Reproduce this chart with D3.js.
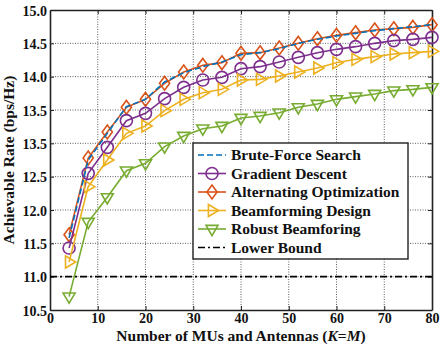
<!DOCTYPE html>
<html>
<head>
<meta charset="utf-8">
<script src="https://cdnjs.cloudflare.com/ajax/libs/d3/7.8.5/d3.min.js"></script>
<style>
	html, body { margin: 0; padding: 0; background: #fff; }
	svg { display: block; font-family: "Liberation Serif", "Times New Roman", serif; font-weight: bold; }
</style>
</head>
<body>
<svg id="chart" width="443" height="346"></svg>
<script>
	var xValues = [4, 8, 12, 16, 20, 24, 28, 32, 36, 40, 44, 48, 52, 56, 60, 64, 68, 72, 76, 80];

	var bruteForce = [11.58, 12.75, 13.15, 13.55, 13.66, 13.92, 14.06, 14.15, 14.22, 14.33, 14.36, 14.42, 14.50, 14.56, 14.61, 14.65, 14.69, 14.72, 14.75, 14.78];
	var gradientDescent = [11.43, 12.55, 12.94, 13.34, 13.45, 13.67, 13.84, 13.95, 13.99, 14.12, 14.15, 14.22, 14.29, 14.36, 14.41, 14.45, 14.50, 14.54, 14.56, 14.59];
	var alternatingOpt = [11.63, 12.78, 13.17, 13.54, 13.66, 13.90, 14.07, 14.17, 14.21, 14.35, 14.36, 14.43, 14.50, 14.57, 14.62, 14.66, 14.70, 14.72, 14.74, 14.78];
	var beamformingDesign = [11.22, 12.35, 12.75, 13.15, 13.26, 13.49, 13.66, 13.76, 13.81, 13.95, 13.96, 14.01, 14.07, 14.13, 14.21, 14.26, 14.30, 14.34, 14.36, 14.38];
	var robustBeamforming = [10.70, 11.82, 12.19, 12.59, 12.70, 12.95, 13.11, 13.22, 13.26, 13.38, 13.41, 13.46, 13.54, 13.59, 13.66, 13.70, 13.74, 13.79, 13.81, 13.84];
	var lowerBoundX = [0, 80];
	var lowerBound = [11.0, 11.0];

	var xTicks = [0, 10, 20, 30, 40, 50, 60, 70, 80];
	var yTicks = [10.5, 11.0, 11.5, 12.0, 12.5, 13.0, 13.5, 14.0, 14.5, 15.0];
	// labels as printed in the figure (13.0 is labelled 13.5 there)
	var yTickLabels = ["10.5", "11.0", "11.5", "12.0", "12.5", "13.5", "13.5", "14.0", "14.5", "15.0"];

	var aSeries = [
		{ name: "Alternating Optimization", x: xValues, y: alternatingOpt, color: "#D95319", marker: "diamond", dash: null },
		{ name: "Gradient Descent", x: xValues, y: gradientDescent, color: "#7E2F8E", marker: "circle", dash: null },
		{ name: "Beamforming Design", x: xValues, y: beamformingDesign, color: "#EDB120", marker: "triRight", dash: null },
		{ name: "Robust Beamforing", x: xValues, y: robustBeamforming, color: "#77AC30", marker: "triDown", dash: null },
		{ name: "Brute-Force Search", x: xValues, y: bruteForce, color: "#0072BD", marker: null, dash: "6,3" },
		{ name: "Lower Bound", x: lowerBoundX, y: lowerBound, color: "#000000", marker: null, dash: "7,3,2,3" }
	];
	var aLegendOrder = ["Brute-Force Search", "Gradient Descent", "Alternating Optimization", "Beamforming Design", "Robust Beamforing", "Lower Bound"];

	var oMargin = { left: 50, right: 11, top: 10, bottom: 36 };
	var iWidth = 443, iHeight = 346;

	var xScale = d3.scaleLinear().domain([0, 80]).range([oMargin.left, iWidth - oMargin.right]);
	var yScale = d3.scaleLinear().domain([10.5, 15]).range([iHeight - oMargin.bottom, oMargin.top]);

	var svg = d3.select("#chart");

	// grid
	var gGrid = svg.append("g");
	gGrid.selectAll("line.gx").data(xTicks.slice(1, -1)).enter().append("line")
		.attr("x1", function (d) { return xScale(d); }).attr("x2", function (d) { return xScale(d); })
		.attr("y1", yScale(10.5)).attr("y2", yScale(15))
		.attr("stroke", "#333").attr("stroke-width", 0.8).attr("stroke-dasharray", "1,1.5");
	gGrid.selectAll("line.gy").data(yTicks.slice(1, -1)).enter().append("line")
		.attr("y1", function (d) { return yScale(d); }).attr("y2", function (d) { return yScale(d); })
		.attr("x1", xScale(0)).attr("x2", xScale(80))
		.attr("stroke", "#333").attr("stroke-width", 0.8).attr("stroke-dasharray", "1,1.5");

	// axes with inward ticks
	var xAxis = d3.axisBottom(xScale).tickValues(xTicks).tickSizeInner(-4).tickSizeOuter(0).tickPadding(3);
	var yAxis = d3.axisLeft(yScale).tickValues(yTicks).tickSizeInner(-4).tickSizeOuter(0).tickPadding(3)
		.tickFormat(function (d, i) { return yTickLabels[i]; });

	var gX = svg.append("g").attr("transform", "translate(0," + yScale(10.5) + ")").call(xAxis);
	var gY = svg.append("g").attr("transform", "translate(" + xScale(0) + ",0)").call(yAxis);
	svg.append("g").attr("transform", "translate(0," + yScale(15) + ")")
		.call(d3.axisTop(xScale).tickValues(xTicks).tickSizeInner(-4).tickSizeOuter(0).tickFormat(""));
	svg.append("g").attr("transform", "translate(" + xScale(80) + ",0)")
		.call(d3.axisRight(yScale).tickValues(yTicks).tickSizeInner(-4).tickSizeOuter(0).tickFormat(""));

	svg.selectAll(".domain").attr("stroke", "#222").attr("stroke-width", 1.6);
	svg.selectAll(".tick line").attr("stroke", "#222");
	svg.selectAll(".tick text").attr("font-family", "Liberation Serif").attr("font-weight", "bold")
		.attr("font-size", 14).attr("fill", "#111");
	gY.selectAll(".tick text").attr("dy", "0.36em");

	// series
	var lineGen = d3.line()
		.x(function (d) { return xScale(d[0]); })
		.y(function (d) { return yScale(d[1]); });

	function markerPath(sType, s) {
		if (sType === "circle") {
			return d3.symbol(d3.symbolCircle, Math.PI * s * s)();
		}
		if (sType === "diamond") {
			return "M0," + (-s * 1.15) + "L" + s * 0.85 + ",0L0," + (s * 1.15) + "L" + (-s * 0.85) + ",0Z";
		}
		if (sType === "triRight") {
			return "M" + (-s * 0.6) + "," + (-s) + "L" + s * 1.1 + ",0L" + (-s * 0.6) + "," + s + "Z";
		}
		if (sType === "triDown") {
			return "M" + (-s) + "," + (-s * 0.6) + "L" + s + "," + (-s * 0.6) + "L0," + s * 1.1 + "Z";
		}
		return "";
	}

	var gSeries = svg.append("g");
	aSeries.forEach(function (oSer) {
		var aPts = oSer.x.map(function (x, i) { return [x, oSer.y[i]]; });
		gSeries.append("path").datum(aPts)
			.attr("d", lineGen)
			.attr("fill", "none")
			.attr("stroke", oSer.color)
			.attr("stroke-width", 1.6)
			.attr("stroke-dasharray", oSer.dash);
		if (oSer.marker) {
			gSeries.selectAll(null).data(aPts).enter().append("path")
				.attr("d", markerPath(oSer.marker, 6))
				.attr("transform", function (d) { return "translate(" + xScale(d[0]) + "," + yScale(d[1]) + ")"; })
				.attr("fill", "none")
				.attr("stroke", oSer.color)
				.attr("stroke-width", 1.6);
		}
	});

	// legend
	var oLegend = { x: 193, y: 143, w: 215, h: 116, row: 18.5 };
	var gLegend = svg.append("g");
	gLegend.append("rect")
		.attr("x", oLegend.x).attr("y", oLegend.y).attr("width", oLegend.w).attr("height", oLegend.h)
		.attr("fill", "#fff").attr("stroke", "#222").attr("stroke-width", 1.4);
	aLegendOrder.forEach(function (sName, i) {
		var oSer = aSeries.filter(function (s) { return s.name === sName; })[0];
		var yy = oLegend.y + 12 + i * oLegend.row;
		gLegend.append("line")
			.attr("x1", oLegend.x + 5).attr("x2", oLegend.x + 33)
			.attr("y1", yy).attr("y2", yy)
			.attr("stroke", oSer.color).attr("stroke-width", 1.6)
			.attr("stroke-dasharray", oSer.dash);
		if (oSer.marker) {
			gLegend.append("path")
				.attr("d", markerPath(oSer.marker, 6))
				.attr("transform", "translate(" + (oLegend.x + 19) + "," + yy + ")")
				.attr("fill", "none").attr("stroke", oSer.color).attr("stroke-width", 1.6);
		}
		gLegend.append("text")
			.attr("x", oLegend.x + 38).attr("y", yy).attr("dy", "0.35em")
			.attr("font-size", 15.5).attr("fill", "#111")
			.text(sName);
	});

	// axis titles
	var xTitle = svg.append("text")
		.attr("x", (xScale(0) + xScale(80)) / 2).attr("y", 341)
		.attr("text-anchor", "middle").attr("font-size", 15.5).attr("fill", "#111");
	xTitle.append("tspan").text("Number of MUs and Antennas (");
	xTitle.append("tspan").attr("font-style", "italic").text("K");
	xTitle.append("tspan").text("=");
	xTitle.append("tspan").attr("font-style", "italic").text("M");
	xTitle.append("tspan").text(")");

	svg.append("text")
		.attr("transform", "translate(14," + ((yScale(10.5) + yScale(15)) / 2) + ") rotate(-90)")
		.attr("text-anchor", "middle").attr("font-size", 15.5).attr("fill", "#111")
		.text("Achievable Rate (bps/Hz)");
</script>
</body>
</html>
